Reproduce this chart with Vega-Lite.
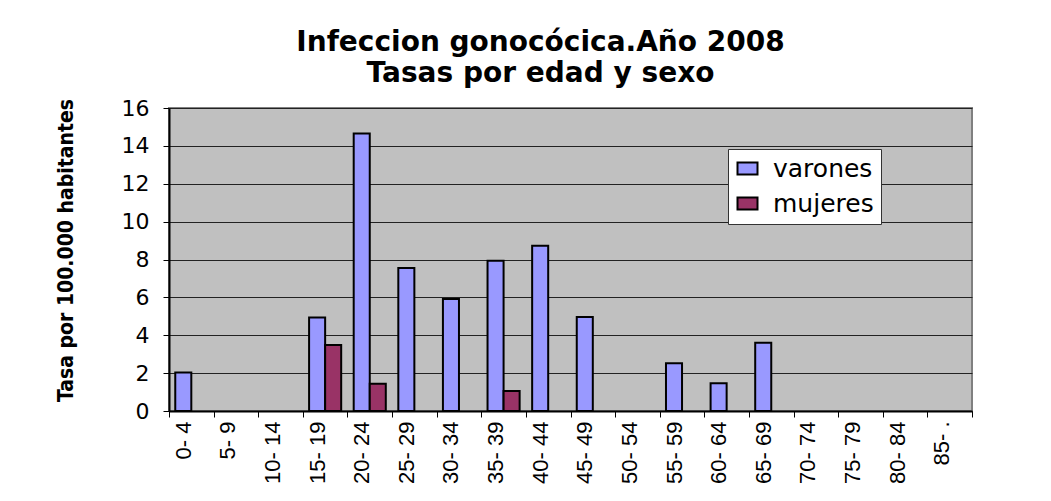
{
  "$schema": "https://vega.github.io/schema/vega-lite/v6.json",
  "width": 803,
  "height": 303,
  "autosize": {"type": "none"},
  "padding": {"left": 169, "top": 108, "right": 79, "bottom": 90},
  "background": "white",
  "title": {
    "text": ["Infeccion gonocócica.Año 2008", "Tasas por edad y sexo"],
    "font": "DejaVu Sans",
    "fontWeight": "bold",
    "fontSize": 28,
    "lineHeight": 31,
    "color": "black",
    "anchor": "middle",
    "frame": "group",
    "dx": -30,
    "offset": 9
  },
  "data": {
    "values": [
      {"edad": "0- 4", "sexo": "varones", "tasa": 2.03},
      {"edad": "15- 19", "sexo": "varones", "tasa": 4.94},
      {"edad": "15- 19", "sexo": "mujeres", "tasa": 3.49},
      {"edad": "20- 24", "sexo": "varones", "tasa": 14.66},
      {"edad": "20- 24", "sexo": "mujeres", "tasa": 1.44},
      {"edad": "25- 29", "sexo": "varones", "tasa": 7.55},
      {"edad": "30- 34", "sexo": "varones", "tasa": 5.91},
      {"edad": "35- 39", "sexo": "varones", "tasa": 7.94},
      {"edad": "35- 39", "sexo": "mujeres", "tasa": 1.06},
      {"edad": "40- 44", "sexo": "varones", "tasa": 8.73},
      {"edad": "45- 49", "sexo": "varones", "tasa": 4.96},
      {"edad": "55- 59", "sexo": "varones", "tasa": 2.52},
      {"edad": "60- 64", "sexo": "varones", "tasa": 1.47},
      {"edad": "65- 69", "sexo": "varones", "tasa": 3.6}
    ]
  },
  "mark": {"type": "bar", "stroke": "black", "strokeWidth": 2},
  "encoding": {
    "x": {
      "field": "edad",
      "type": "nominal",
      "scale": {
        "domain": ["0- 4", "5- 9", "10- 14", "15- 19", "20- 24", "25- 29", "30- 34", "35- 39", "40- 44", "45- 49", "50- 54", "55- 59", "60- 64", "65- 69", "70- 74", "75- 79", "80- 84", "85- ."],
        "paddingInner": 0,
        "paddingOuter": 0
      },
      "axis": {
        "title": null,
        "tickBand": "extent",
        "ticks": true,
        "tickSize": 6,
        "tickColor": "black",
        "tickWidth": 1,
        "domainColor": "black",
        "domainWidth": 2,
        "labelAngle": -90,
        "labelAlign": "right",
        "labelBaseline": "middle",
        "labelFont": "Liberation Sans",
        "labelFontSize": 22,
        "labelColor": "black",
        "labelPadding": 4,
        "labelOffset": -8,
        "grid": false
      }
    },
    "xOffset": {
      "field": "sexo",
      "type": "nominal",
      "scale": {"domain": ["varones", "mujeres"], "paddingInner": 0, "paddingOuter": 0.39}
    },
    "y": {
      "field": "tasa",
      "type": "quantitative",
      "scale": {"domain": [0, 16], "nice": false},
      "axis": {
        "values": [0, 2, 4, 6, 8, 10, 12, 14, 16],
        "grid": true,
        "gridColor": "#222222",
        "gridWidth": 1,
        "domainColor": "black",
        "domainWidth": 2,
        "tickColor": "black",
        "tickSize": 6,
        "labelFont": "DejaVu Sans",
        "labelFontSize": 22,
        "labelColor": "black",
        "labelPadding": 14,
        "title": "Tasa por 100.000 habitantes",
        "titleFont": "Liberation Sans Narrow, DejaVu Sans Condensed, Liberation Sans",
        "titleFontWeight": "bold",
        "titleFontSize": 21,
        "titleColor": "black",
        "titleAngle": -90,
        "titleAlign": "center",
        "titleBaseline": "bottom",
        "titleX": -93,
        "titleY": 142
      }
    },
    "color": {
      "field": "sexo",
      "type": "nominal",
      "scale": {"domain": ["varones", "mujeres"], "range": ["#9999FF", "#993366"]},
      "legend": {
        "title": null,
        "orient": "none",
        "legendX": 559,
        "legendY": 41,
        "fillColor": "white",
        "strokeColor": "#333333",
        "padding": 7,
        "symbolType": "M -1 -0.6 L 1 -0.6 L 1 0.6 L -1 0.6 Z",
        "symbolSize": 400,
        "symbolStrokeColor": "black",
        "symbolStrokeWidth": 2,
        "labelFont": "DejaVu Sans",
        "labelFontSize": 25,
        "labelColor": "black",
        "labelOffset": 13,
        "rowPadding": 9,
        "labelLimit": 300,
        "labelExpr": "datum.label + '\u2003'"
      }
    }
  },
  "config": {
    "view": {"fill": "#C0C0C0", "stroke": "#808080", "strokeWidth": 2}
  }
}
